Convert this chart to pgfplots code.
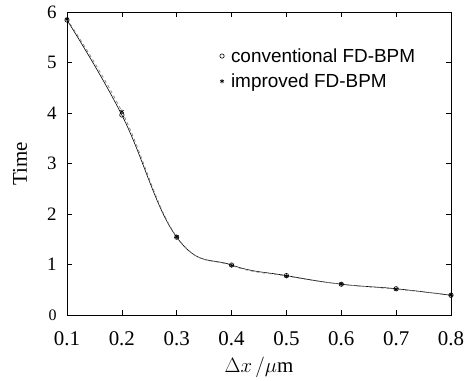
\documentclass[border=0pt]{standalone}
\usepackage{fontspec}
\setmainfont{Liberation Serif}
\setsansfont{Liberation Sans}
\usepackage{pgfplots}
\pgfplotsset{compat=1.18}
\begin{document}
\begin{tikzpicture}
\begin{axis}[
  name=ax,
  scale only axis,
  width=384bp, height=303bp,
  xmin=0.1, xmax=0.8, ymin=0, ymax=6,
  xtick={0.1,0.2,...,0.8},
  ytick={0,1,...,6},
  xticklabels={0.1,0.2,0.3,0.4,0.5,0.6,0.7,0.8},
  yticklabels={{\fontsize{16}{16}\selectfont 0},1,2,3,4,5,6},
  tick align=inside,
  major tick length=5bp,
  tick style={black, line width=0.5pt},
  axis line style={line width=0.8pt},
  /pgf/number format/assume math mode=true,
  xticklabel style={font=\fontsize{21}{22}\selectfont, yshift=-13bp},
  yticklabel style={font=\fontsize{19}{22}\selectfont, xshift=-7bp},
  label style={font=\fontsize{21}{24}\selectfont},
  xlabel={$\Delta x\,/\mu$m},
  ylabel={Time},
  xlabel style={at={(axis description cs:0.5,0)}, anchor=center, yshift=-52bp},
  ylabel style={at={(axis description cs:0,0.5)}, anchor=center, yshift=47bp},
  legend style={at={(0.385,0.887)}, anchor=north west, draw=none, fill=none,
    font=\sffamily\fontsize{19}{24}\selectfont, row sep=6bp, inner sep=0pt},
  legend cell align=left,
  legend image code/.code={\path[draw=none,fill=none] (0bp,0bp) -- (14bp,0bp);
    \draw[#1] plot coordinates {(7bp,0bp)};},
]
\addplot[black, line width=0.6pt, smooth, tension=0.7, forget plot] coordinates {
(0.1,5.84) (0.2,3.96) (0.3,1.54) (0.4,0.99) (0.5,0.78) (0.6,0.61) (0.7,0.52) (0.8,0.39)};
\addplot[gray, line width=0.7pt, dashed, smooth, tension=0.7, forget plot] coordinates {
(0.1,5.86) (0.2,4.03) (0.3,1.55) (0.4,0.98) (0.5,0.77) (0.6,0.61) (0.7,0.51) (0.8,0.40)};
\addplot[only marks, mark=o, mark size=2.2pt, black, mark options={line width=0.6pt}] coordinates {
(0.1,5.84) (0.2,3.96) (0.3,1.54) (0.4,0.99) (0.5,0.78) (0.6,0.61) (0.7,0.52) (0.8,0.39)};
\addlegendentry{conventional FD-BPM}
\addplot[only marks, mark=asterisk, mark size=2.2pt, black, mark options={line width=0.6pt}] coordinates {
(0.1,5.86) (0.2,4.03) (0.3,1.55) (0.4,0.98) (0.5,0.77) (0.6,0.61) (0.7,0.51) (0.8,0.40)};
\addlegendentry{improved FD-BPM}
\end{axis}
\path (ax.south west) ++(-67bp,-62bp);
\path (ax.north east) ++(22bp,12bp);
\end{tikzpicture}
\end{document}
